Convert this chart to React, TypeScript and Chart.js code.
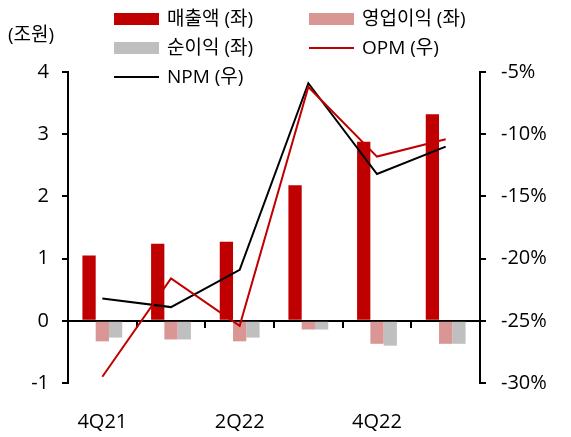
import React, { useEffect, useRef } from 'react';
import { Chart, registerables } from 'chart.js';

Chart.register(...registerables);

const categories = ['4Q21', '1Q22', '2Q22', '3Q22', '4Q22', '1Q23'];
const shownLabels = ['4Q21', '2Q22', '4Q22'];
const revenue = [1.05, 1.24, 1.27, 2.18, 2.88, 3.32];
const operatingProfit = [-0.33, -0.3, -0.33, -0.14, -0.37, -0.37];
const netProfit = [-0.27, -0.3, -0.27, -0.14, -0.4, -0.37];
const opm = [-29.5, -21.6, -25.4, -6.2, -11.8, -10.4];
const npm = [-23.2, -23.9, -20.9, -5.9, -13.2, -11.0];
const seriesNames = ['매출액 (좌)', '영업이익 (좌)', '순이익 (좌)', 'OPM (우)', 'NPM (우)'];
const unitLabel = '(조원)';

const FONT = "'Open Sans', 'Noto Sans CJK KR', sans-serif";
const RED = '#C00000';
const PINK = '#DA9694';
const GREY = '#BFBFBF';

const legendPlugin = {
  id: 'customLegend',
  afterDraw(chart: any) {
    const ctx = chart.ctx;
    const ds = chart.data.datasets;
    const slots = [
      { x: 114, y: 19 },
      { x: 309, y: 19 },
      { x: 114, y: 48 },
      { x: 309, y: 48 },
      { x: 114, y: 77 },
    ];
    ctx.save();
    ctx.font = `19px ${FONT}`;
    ctx.textBaseline = 'middle';
    ctx.textAlign = 'left';
    ds.forEach((d: any, i: number) => {
      const s = slots[i];
      if (d.type === 'line') {
        ctx.strokeStyle = d.borderColor;
        ctx.lineWidth = 2;
        ctx.beginPath();
        ctx.moveTo(s.x, s.y);
        ctx.lineTo(s.x + 45, s.y);
        ctx.stroke();
      } else {
        ctx.fillStyle = d.backgroundColor;
        ctx.fillRect(s.x, s.y - 6, 45, 12);
      }
      ctx.fillStyle = '#000';
      ctx.fillText(d.label, s.x + 53, s.y + 1);
    });
    ctx.fillText(unitLabel, 8, 36);
    ctx.restore();
  },
};

export default function App() {
  const ref = useRef<HTMLCanvasElement | null>(null);
  useEffect(() => {
    if (!ref.current) return;
    const tickFont = { family: FONT, size: 20 };
    const chart = new Chart(ref.current, {
      type: 'bar',
      data: {
        labels: categories,
        datasets: [
          { type: 'bar', label: seriesNames[0], data: revenue, backgroundColor: RED, yAxisID: 'y', order: 1 },
          { type: 'bar', label: seriesNames[1], data: operatingProfit, backgroundColor: PINK, yAxisID: 'y', order: 1 },
          { type: 'bar', label: seriesNames[2], data: netProfit, backgroundColor: GREY, yAxisID: 'y', order: 1 },
          { type: 'line', label: seriesNames[3], data: opm, borderColor: RED, backgroundColor: RED, borderWidth: 2, pointRadius: 0, tension: 0, yAxisID: 'y1', order: 0 },
          { type: 'line', label: seriesNames[4], data: npm, borderColor: '#000', backgroundColor: '#000', borderWidth: 2, pointRadius: 0, tension: 0, yAxisID: 'y1', order: 0 },
        ] as any,
      },
      options: {
        animation: false,
        responsive: false,
        maintainAspectRatio: false,
        layout: { padding: { top: 72, left: 0, right: 0, bottom: 0 } },
        datasets: { bar: { categoryPercentage: 0.58, barPercentage: 1 } } as any,
        plugins: { legend: { display: false }, tooltip: { enabled: false } },
        scales: {
          x: {
            type: 'category',
            position: 'bottom',
            offset: true,
            grid: { display: false, drawTicks: false },
            border: { display: false },
            ticks: {
              font: tickFont,
              color: '#000',
              padding: 27,
              autoSkip: false,
              maxRotation: 0,
              callback: (_v: any, i: number) => (shownLabels.includes(categories[i]) ? categories[i] : ''),
            },
            afterFit: (s: any) => { s.height = 54; },
          },
          x0: {
            type: 'category',
            axis: 'x',
            position: { y: 0 },
            offset: true,
            grid: { offset: true, drawOnChartArea: false, drawTicks: true, tickLength: 6, color: '#000', lineWidth: 2 },
            border: { display: true, color: '#000', width: 2 },
            ticks: { display: false },
          } as any,
          y: {
            type: 'linear',
            position: 'left',
            min: -1,
            max: 4,
            ticks: { stepSize: 1, font: tickFont, color: '#000', padding: 13 },
            grid: { drawOnChartArea: false, drawTicks: true, tickLength: 6, color: '#000', lineWidth: 2 },
            border: { display: true, color: '#000', width: 2 },
            afterFit: (s: any) => { s.width = 68; },
          },
          y1: {
            type: 'linear',
            position: 'right',
            min: -30,
            max: -5,
            ticks: { stepSize: 5, font: tickFont, color: '#000', padding: 15, callback: (v: any) => `${v}%` },
            grid: { drawOnChartArea: false, drawTicks: true, tickLength: 6, color: '#000', lineWidth: 2 },
            border: { display: true, color: '#000', width: 2 },
            afterFit: (s: any) => { s.width = 91; },
          },
        },
      } as any,
      plugins: [legendPlugin],
    });
    return () => chart.destroy();
  }, []);
  return (
    <div style={{ position: 'fixed', left: 0, top: 0, width: 571, height: 437, background: '#fff' }}>
      <canvas ref={ref} width={571} height={437} />
    </div>
  );
}
